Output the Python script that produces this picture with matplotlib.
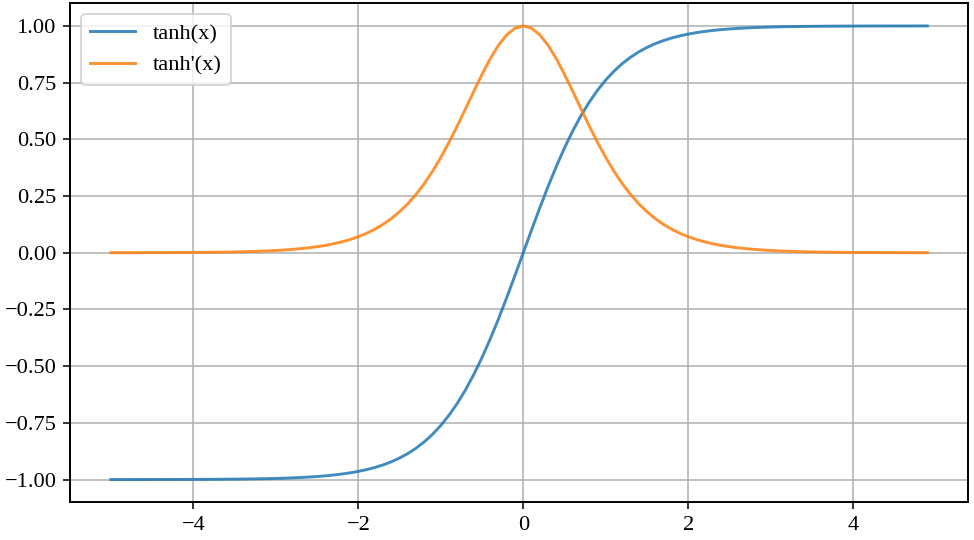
import matplotlib.pyplot as plt

plt.rcParams['font.family'] = ['Liberation Serif', 'DejaVu Serif']
plt.rcParams['font.size'] = 11.5

x_vals = [-5.0, -4.9, -4.8, -4.7, -4.6, -4.5, -4.4, -4.3, -4.2, -4.1,
          -4.0, -3.9, -3.8, -3.7, -3.6, -3.5, -3.4, -3.3, -3.2, -3.1,
          -3.0, -2.9, -2.8, -2.7, -2.6, -2.5, -2.4, -2.3, -2.2, -2.1,
          -2.0, -1.9, -1.8, -1.7, -1.6, -1.5, -1.4, -1.3, -1.2, -1.1,
          -1.0, -0.9, -0.8, -0.7, -0.6, -0.5, -0.4, -0.3, -0.2, -0.1,
          0.0, 0.1, 0.2, 0.3, 0.4, 0.5, 0.6, 0.7, 0.8, 0.9,
          1.0, 1.1, 1.2, 1.3, 1.4, 1.5, 1.6, 1.7, 1.8, 1.9,
          2.0, 2.1, 2.2, 2.3, 2.4, 2.5, 2.6, 2.7, 2.8, 2.9,
          3.0, 3.1, 3.2, 3.3, 3.4, 3.5, 3.6, 3.7, 3.8, 3.9,
          4.0, 4.1, 4.2, 4.3, 4.4, 4.5, 4.6, 4.7, 4.8, 4.9]

tanh_vals = [-0.9999, -0.9999, -0.9999, -0.9998, -0.9998, -0.9998, -0.9997, -0.9996, -0.9996, -0.9995,
             -0.9993, -0.9992, -0.9990, -0.9988, -0.9985, -0.9982, -0.9978, -0.9973, -0.9967, -0.9959,
             -0.9951, -0.9940, -0.9926, -0.9910, -0.9890, -0.9866, -0.9837, -0.9801, -0.9757, -0.9705,
             -0.9640, -0.9562, -0.9468, -0.9354, -0.9217, -0.9051, -0.8854, -0.8617, -0.8337, -0.8005,
             -0.7616, -0.7163, -0.6640, -0.6044, -0.5370, -0.4621, -0.3799, -0.2913, -0.1974, -0.0997,
             0.0, 0.0997, 0.1974, 0.2913, 0.3799, 0.4621, 0.5370, 0.6044, 0.6640, 0.7163,
             0.7616, 0.8005, 0.8337, 0.8617, 0.8854, 0.9051, 0.9217, 0.9354, 0.9468, 0.9562,
             0.9640, 0.9705, 0.9757, 0.9801, 0.9837, 0.9866, 0.9890, 0.9910, 0.9926, 0.9940,
             0.9951, 0.9959, 0.9967, 0.9973, 0.9978, 0.9982, 0.9985, 0.9988, 0.9990, 0.9992,
             0.9993, 0.9995, 0.9996, 0.9996, 0.9997, 0.9998, 0.9998, 0.9998, 0.9999, 0.9999]

dtanh_vals = [0.0002, 0.0002, 0.0003, 0.0003, 0.0004, 0.0005, 0.0006, 0.0007, 0.0009, 0.0011,
              0.0013, 0.0016, 0.0020, 0.0024, 0.0030, 0.0036, 0.0045, 0.0054, 0.0066, 0.0081,
              0.0099, 0.0121, 0.0147, 0.0179, 0.0219, 0.0266, 0.0323, 0.0394, 0.0480, 0.0581,
              0.0707, 0.0857, 0.1036, 0.1250, 0.1505, 0.1808, 0.2161, 0.2575, 0.3049, 0.3592,
              0.4200, 0.4869, 0.5591, 0.6347, 0.7116, 0.7864, 0.8557, 0.9151, 0.9610, 0.9901,
              1.0, 0.9901, 0.9610, 0.9151, 0.8557, 0.7864, 0.7116, 0.6347, 0.5591, 0.4869,
              0.4200, 0.3592, 0.3049, 0.2575, 0.2161, 0.1808, 0.1505, 0.1250, 0.1036, 0.0857,
              0.0707, 0.0581, 0.0480, 0.0394, 0.0323, 0.0266, 0.0219, 0.0179, 0.0147, 0.0121,
              0.0099, 0.0081, 0.0066, 0.0054, 0.0045, 0.0036, 0.0030, 0.0024, 0.0020, 0.0016,
              0.0013, 0.0011, 0.0009, 0.0007, 0.0006, 0.0005, 0.0004, 0.0003, 0.0003, 0.0002]

fig, ax = plt.subplots(figsize=(974 / 140, 540 / 140), dpi=140)
fig.subplots_adjust(left=0.072, right=0.994, bottom=0.070, top=0.994)

ax.plot(x_vals, tanh_vals, label='tanh(x)', alpha=0.85)
ax.plot(x_vals, dtanh_vals, label="tanh'(x)", alpha=0.85)
ax.grid(True)
ax.legend(loc='upper left')
for s in ax.spines.values():
    s.set_linewidth(1.0)

plt.savefig('out.png', dpi=140)
